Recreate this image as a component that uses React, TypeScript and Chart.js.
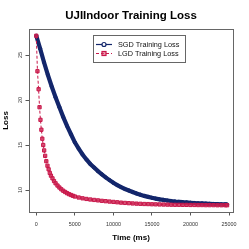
import React, { useEffect, useRef } from "react";
import { Chart, registerables } from "chart.js";

Chart.register(...registerables);

const TITLE = "UJIIndoor Training Loss";
const X_TITLE = "Time (ms)";
const Y_TITLE = "Loss";
const X_TICKS = [0, 5000, 10000, 15000, 20000, 25000];
const Y_TICKS = [10, 15, 20, 25];
const SGD_LABEL = "SGD Training Loss";
const LGD_LABEL = "LGD Training Loss";

const SGD_TIME = [
  0, 500, 1000, 1500, 2000, 2500, 3000, 3500, 4000, 4500, 5000, 5500, 6000, 6500, 7000, 7500,
  8000, 8500, 9000, 9500, 10000, 10500, 11000, 11500, 12000, 12500, 13000, 13500, 14000, 14500,
  15000, 15500, 16000, 16500, 17000, 17500, 18000, 18500, 19000, 19500, 20000, 20500, 21000,
  21500, 22000, 22500, 23000, 23500, 24000, 24500, 24750,
];
const SGD_LOSS = [
  27.14, 25.7, 24.2, 22.8, 21.5, 20.3, 19.2, 18.1, 17.1, 16.2, 15.3, 14.6, 13.95, 13.4, 12.9, 12.5,
  12.1, 11.75, 11.4, 11.1, 10.8, 10.55, 10.32, 10.12, 9.95, 9.78, 9.62, 9.48, 9.35, 9.24,
  9.14, 9.05, 8.97, 8.9, 8.84, 8.78, 8.73, 8.69, 8.65, 8.62, 8.59, 8.56, 8.53,
  8.51, 8.49, 8.47, 8.45, 8.44, 8.42, 8.41, 8.4,
];

const LGD_TIME = [
  0, 150, 300, 420, 540, 660, 780, 900, 1020, 1150, 1300, 1450, 1600, 1750, 1900, 2100, 2300,
  2500, 2750, 3000, 3250, 3500, 3750, 4000, 4250, 4500, 4750, 5000, 5500, 6000, 6500, 7000, 7500,
  8000, 8500, 9000, 9500, 10000, 10500, 11000, 11500, 12000, 12500, 13000, 13500, 14000, 14500,
  15000, 15500, 16000, 16500, 17000, 17500, 18000, 18500, 19000, 19500, 20000, 20500, 21000,
  21500, 22000, 22500, 23000, 23500, 24000, 24500, 24750,
];
const LGD_LOSS = [
  27.14, 23.2, 21.2, 19.2, 17.8, 16.7, 15.7, 15.0, 14.4, 13.8, 13.2, 12.7, 12.3, 11.9, 11.6, 11.3, 11.0,
  10.75, 10.5, 10.28, 10.08, 9.92, 9.78, 9.65, 9.54, 9.45, 9.36, 9.28, 9.17, 9.08, 9.01, 8.95, 8.9,
  8.85, 8.8, 8.76, 8.72, 8.68, 8.64, 8.6, 8.57, 8.54, 8.51, 8.49, 8.47, 8.45, 8.44,
  8.42, 8.41, 8.4, 8.39, 8.38, 8.37, 8.36, 8.36, 8.35, 8.35, 8.34, 8.34, 8.33,
  8.33, 8.32, 8.32, 8.32, 8.31, 8.31, 8.31, 8.31,
];

const NAVY = "#13266b";
const RED = "#c8174a";
const RED_FILL = "rgba(205,40,85,0.8)";
const FONT = "'Liberation Sans', Arial, Helvetica, sans-serif";

const decorPlugin = {
  id: "decor",
  afterDraw(chart: any) {
    const ctx = chart.ctx as CanvasRenderingContext2D;
    const a = chart.chartArea;
    const xs = chart.scales.x;
    const ys = chart.scales.y;
    ctx.save();
    ctx.strokeStyle = "#666";
    ctx.lineWidth = 1;
    ctx.strokeRect(a.left + 0.5, a.top + 0.5, a.right - a.left, a.bottom - a.top);

    ctx.fillStyle = "#333";
    ctx.font = `5.4px ${FONT}`;
    ctx.textAlign = "center";
    ctx.textBaseline = "alphabetic";
    X_TICKS.forEach((v) => {
      ctx.fillText(String(v), xs.getPixelForValue(v), a.bottom + 14);
    });
    Y_TICKS.forEach((v) => {
      ctx.save();
      ctx.translate(a.left - 7.5, ys.getPixelForValue(v));
      ctx.rotate(-Math.PI / 2);
      ctx.fillText(String(v), 0, 0);
      ctx.restore();
    });

    const cx = (a.left + a.right) / 2;
    const cy = (a.top + a.bottom) / 2;
    ctx.fillStyle = "#000";
    ctx.font = `bold 11.5px ${FONT}`;
    ctx.fillText(TITLE, cx, 19);
    ctx.font = `bold 8px ${FONT}`;
    ctx.fillText(X_TITLE, cx, 239.5);
    ctx.save();
    ctx.translate(7.5, cy);
    ctx.rotate(-Math.PI / 2);
    ctx.fillText(Y_TITLE, 0, 0);
    ctx.restore();

    const lx = 93.5, ly = 35.5, lw = 92, lh = 27;
    ctx.fillStyle = "#fff";
    ctx.fillRect(lx, ly, lw, lh);
    ctx.strokeStyle = "#666";
    ctx.strokeRect(lx, ly, lw, lh);
    const entries = [
      { label: SGD_LABEL, color: NAVY, dash: [] as number[], shape: "circle", y: 44.5 },
      { label: LGD_LABEL, color: RED, dash: [3, 2], shape: "rect", y: 53.5 },
    ];
    entries.forEach((e) => {
      ctx.strokeStyle = e.color;
      ctx.lineWidth = 1.2;
      ctx.setLineDash(e.dash);
      ctx.beginPath();
      ctx.moveTo(96, e.y);
      ctx.lineTo(112, e.y);
      ctx.stroke();
      ctx.setLineDash([]);
      ctx.fillStyle = "#fff";
      if (e.shape === "circle") {
        ctx.beginPath();
        ctx.arc(104, e.y, 2, 0, Math.PI * 2);
        ctx.fill();
        ctx.stroke();
      } else {
        ctx.fillStyle = "rgba(220,90,120,0.6)";
        ctx.fillRect(102, e.y - 2, 4, 4);
        ctx.strokeRect(102, e.y - 2, 4, 4);
      }
      ctx.fillStyle = "#111";
      ctx.font = `7.3px ${FONT}`;
      ctx.textAlign = "left";
      ctx.textBaseline = "middle";
      ctx.fillText(e.label, 118, e.y + 0.5);
    });
    ctx.restore();
  },
};

export default function App() {
  const ref = useRef<HTMLCanvasElement | null>(null);
  useEffect(() => {
    if (!ref.current) return;
    const chart = new Chart(ref.current, {
      type: "scatter",
      data: {
        datasets: [
          {
            label: SGD_LABEL,
            data: SGD_TIME.map((t, i) => ({ x: t, y: SGD_LOSS[i] })),
            showLine: true,
            borderColor: NAVY,
            borderWidth: 4.2,
            pointStyle: "circle",
            pointRadius: 1.6,
            pointBorderWidth: 1,
            pointBorderColor: NAVY,
            pointBackgroundColor: NAVY,
            order: 1,
          },
          {
            label: LGD_LABEL,
            data: LGD_TIME.map((t, i) => ({ x: t, y: LGD_LOSS[i] })),
            showLine: true,
            borderColor: RED,
            borderWidth: 1,
            borderDash: [3, 2],
            pointStyle: "rect",
            pointRadius: 2.3,
            pointBorderWidth: 1,
            pointBorderColor: RED,
            pointBackgroundColor: RED_FILL,
            order: 0,
          },
        ],
      },
      options: {
        animation: false,
        responsive: false,
        layout: { padding: { top: 29, right: 16, left: 0, bottom: 0 } },
        plugins: {
          legend: { display: false },
          title: { display: false },
          tooltip: { enabled: false },
        },
        scales: {
          x: {
            type: "linear",
            min: -946,
            max: 25518,
            afterBuildTicks: (s: any) => {
              s.ticks = X_TICKS.map((v) => ({ value: v }));
            },
            afterFit: (s: any) => {
              s.height = 37;
            },
            ticks: { display: false },
            border: { display: false },
            grid: { display: true, drawOnChartArea: false, drawTicks: true, tickLength: 3.5, color: "#555" },
          },
          y: {
            type: "linear",
            min: 7.56,
            max: 27.89,
            afterBuildTicks: (s: any) => {
              s.ticks = Y_TICKS.map((v) => ({ value: v }));
            },
            afterFit: (s: any) => {
              s.width = 29;
            },
            ticks: { display: false },
            border: { display: false },
            grid: { display: true, drawOnChartArea: false, drawTicks: true, tickLength: 3.5, color: "#555" },
          },
        },
      },
      plugins: [decorPlugin],
    });
    return () => chart.destroy();
  }, []);
  return (
    <div style={{ position: "fixed", left: 0, top: 0, width: 249, height: 249, background: "#fff" }}>
      <canvas ref={ref} width={249} height={249} style={{ display: "block" }} />
    </div>
  );
}
